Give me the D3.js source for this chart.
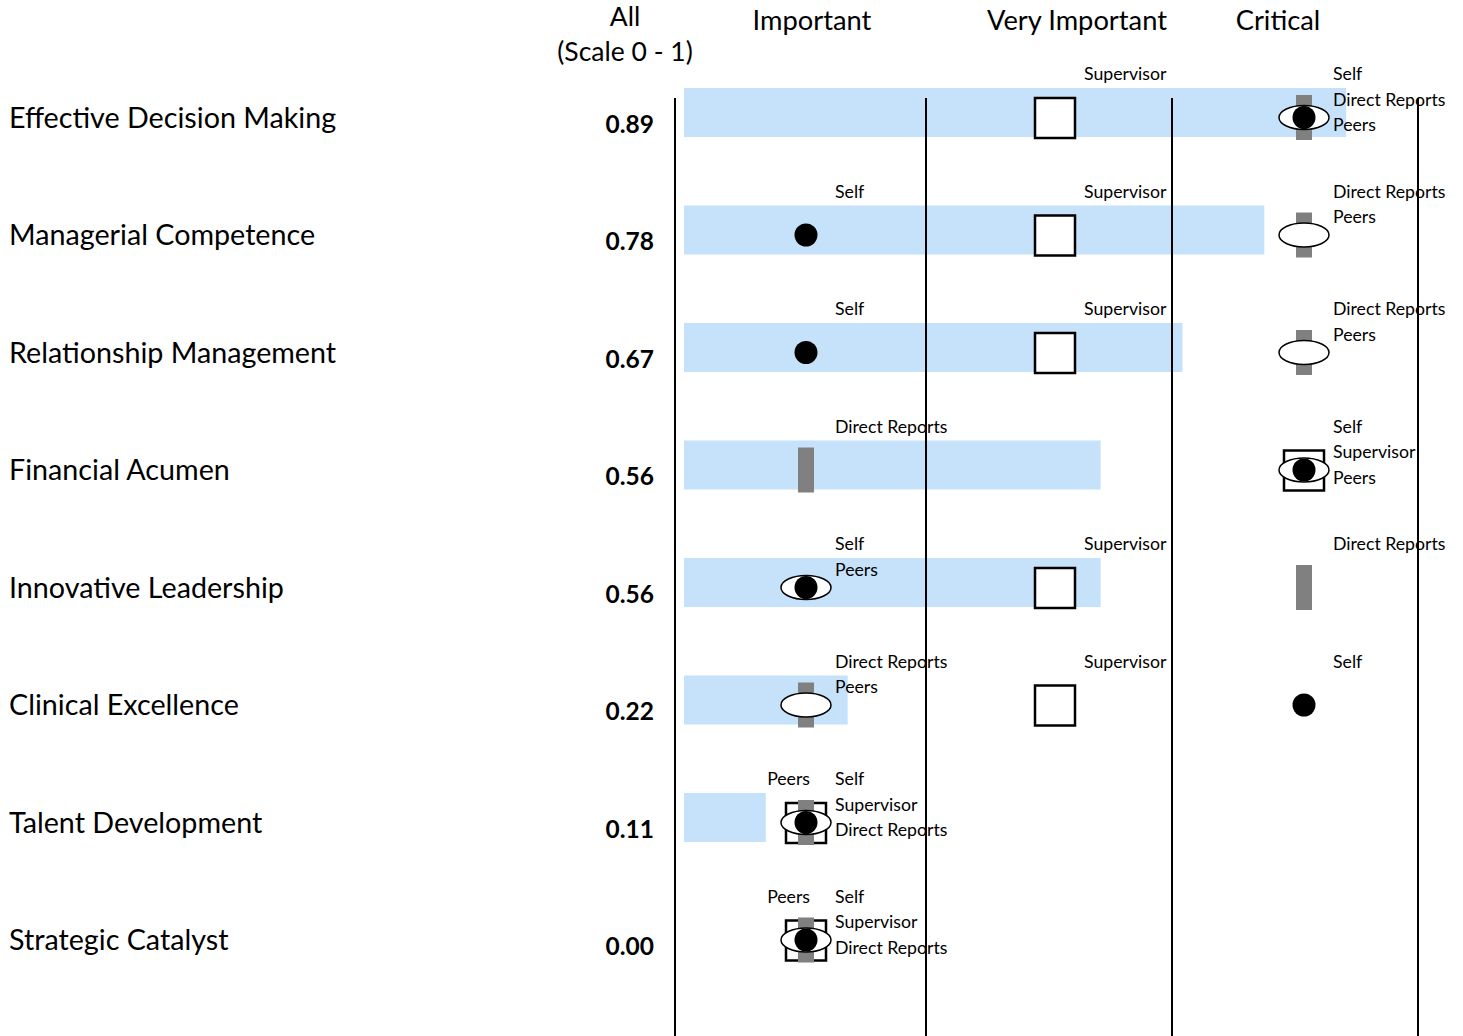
<!DOCTYPE html>
<html>
<head>
<meta charset="utf-8">
<script src="https://cdn.jsdelivr.net/npm/d3@7"></script>
<style>
  html, body { margin: 0; padding: 0; background: #fff; }
  svg { display: block; font-family: Lato, "Open Sans", sans-serif; }
</style>
</head>
<body>
<svg id="chart" width="1463" height="1036"></svg>
<script>
// Competencies, top to bottom, with the overall score (0 - 1)
const competencies = [
  "Effective Decision Making",
  "Managerial Competence",
  "Relationship Management",
  "Financial Acumen",
  "Innovative Leadership",
  "Clinical Excellence",
  "Talent Development",
  "Strategic Catalyst"
];
const overallScores = [0.89, 0.78, 0.67, 0.56, 0.56, 0.22, 0.11, 0.00];

// Importance level given by each rater group: 1 = Important, 2 = Very Important, 3 = Critical
const selfLevels          = [3, 1, 1, 3, 1, 3, 1, 1];
const supervisorLevels    = [2, 2, 2, 3, 2, 2, 1, 1];
const directReportsLevels = [3, 3, 3, 1, 3, 1, 1, 1];
const peersLevels         = [3, 3, 3, 3, 1, 1, 1, 1];

const levelNames = ["Important", "Very Important", "Critical"];
const raterGroups = ["Self", "Supervisor", "Direct Reports", "Peers"];

const levelsByGroup = {
  "Self": selfLevels,
  "Supervisor": supervisorLevels,
  "Direct Reports": directReportsLevels,
  "Peers": peersLevels
};

const svg = d3.select("#chart");

// Scales
const y = d3.scaleLinear().domain([0, competencies.length - 1]).range([117.5, 940]);
const xScore = d3.scaleLinear().domain([0, 1]).range([684, 1428]);
const xLevel = d3.scaleLinear().domain([1, 3]).range([806, 1304]);

// Column headers
const head = svg.append("g").attr("fill", "#000");
head.append("text").attr("x", 625).attr("y", 26).attr("text-anchor", "middle")
  .attr("font-size", 26.5).text("All");
head.append("text").attr("x", 625).attr("y", 61).attr("text-anchor", "middle")
  .attr("font-size", 26.5).text("(Scale 0 - 1)");
const headerCenters = [812, 1077, 1278];
head.selectAll("text.level").data(levelNames).join("text")
  .attr("class", "level")
  .attr("x", (d, i) => headerCenters[i])
  .attr("y", 30)
  .attr("text-anchor", "middle")
  .attr("font-size", 27.3)
  .text(d => d);

// Overall score bars
svg.append("g").selectAll("rect").data(overallScores).join("rect")
  .attr("x", xScore(0))
  .attr("y", (d, i) => y(i) - 29.5)
  .attr("width", d => xScore(d) - xScore(0))
  .attr("height", 49)
  .attr("fill", "#c6e2fb");

// Column dividers
const dividers = [675, 926, 1172, 1418];
svg.append("g").selectAll("line").data(dividers).join("line")
  .attr("x1", d => d).attr("x2", d => d)
  .attr("y1", 98).attr("y2", 1036)
  .attr("stroke", "#000").attr("stroke-width", 2);

// Row labels and scores
svg.append("g").selectAll("text").data(competencies).join("text")
  .attr("x", 9)
  .attr("y", (d, i) => y(i) + 10)
  .attr("font-size", 28.7)
  .text(d => d);

svg.append("g").selectAll("text").data(overallScores).join("text")
  .attr("x", 654)
  .attr("y", (d, i) => y(i) + 15)
  .attr("text-anchor", "end")
  .attr("font-size", 24.5)
  .attr("font-weight", "bold")
  .text(d => d.toFixed(2));

// Rater markers, drawn back to front: square, bar, ellipse, dot
const marks = svg.append("g");
competencies.forEach((c, i) => {
  const cy = y(i);
  const sx = xLevel(supervisorLevels[i]);
  marks.append("rect")
    .attr("x", sx - 20).attr("y", cy - 19.5)
    .attr("width", 40).attr("height", 40)
    .attr("fill", "#fff").attr("stroke", "#000").attr("stroke-width", 2.5);
  const dx = xLevel(directReportsLevels[i]);
  marks.append("rect")
    .attr("x", dx - 8).attr("y", cy - 22.5)
    .attr("width", 16).attr("height", 45)
    .attr("fill", "#808080");
  const px = xLevel(peersLevels[i]);
  marks.append("ellipse")
    .attr("cx", px).attr("cy", cy)
    .attr("rx", 25).attr("ry", 12)
    .attr("fill", "#fff").attr("stroke", "#000").attr("stroke-width", 1.5);
  const selfX = xLevel(selfLevels[i]);
  marks.append("circle")
    .attr("cx", selfX).attr("cy", cy).attr("r", 11.5)
    .attr("fill", "#000");
});

// Rater labels stacked to the right of each level column; a fourth goes to the left
const labels = svg.append("g").attr("font-size", 17.7);
competencies.forEach((c, i) => {
  const cy = y(i);
  [1, 2, 3].forEach(level => {
    const groups = raterGroups.filter(g => levelsByGroup[g][i] === level);
    groups.forEach((g, k) => {
      const cx = xLevel(level);
      const left = k >= 3;
      labels.append("text")
        .attr("x", left ? cx + 4 : cx + 29)
        .attr("y", cy - 43.5 + (left ? 0 : k) * 25.5)
        .attr("dy", "0.35em")
        .attr("text-anchor", left ? "end" : "start")
        .text(g);
    });
  });
});
</script>
</body>
</html>
